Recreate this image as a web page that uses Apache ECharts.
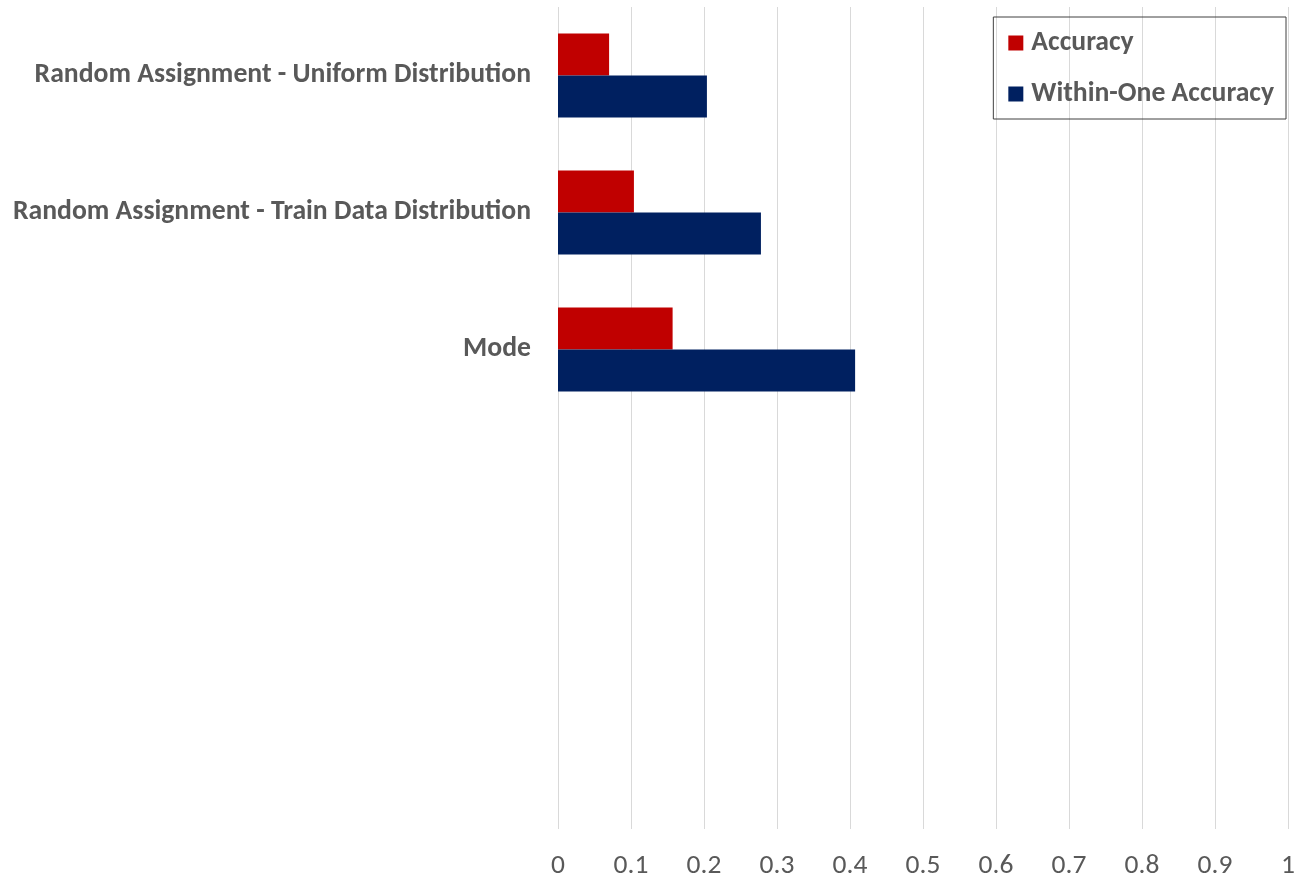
<!DOCTYPE html>
<html>
<head>
<meta charset="utf-8">
<script src="https://cdn.jsdelivr.net/npm/echarts@6/dist/echarts.min.js"></script>
<style>
  html, body { margin: 0; padding: 0; background: #ffffff; }
  #chart { width: 1297px; height: 877px; }
</style>
</head>
<body>
<div id="chart"></div>
<script>
// Baseline methods; the three trailing slots are left empty on the axis.
const categories = [
  'Random Assignment - Uniform Distribution',
  'Random Assignment - Train Data Distribution',
  'Mode',
  '',
  ' ',
  '  '
];
const accuracy = [0.070, 0.104, 0.157, null, null, null];
const withinOneAccuracy = [0.204, 0.278, 0.407, null, null, null];
const seriesNames = ['Accuracy', 'Within-One Accuracy'];
const xTicks = { min: 0, max: 1, interval: 0.1 };

const FONT = 'Carlito, Lato, "Open Sans", sans-serif';
const TEXT = '#595959';

const chart = echarts.init(document.getElementById('chart'), null, { renderer: 'canvas' });
chart.setOption({
  animation: false,
  backgroundColor: '#ffffff',
  grid: {
    left: 558, right: 9, top: 7, bottom: 48,
    containLabel: false, outerBoundsMode: 'none'
  },
  legend: {
    orient: 'vertical',
    right: 11,
    top: 17,
    padding: [12, 12, 11, 15],
    itemWidth: 15,
    itemHeight: 15,
    itemGap: 23,
    icon: 'rect',
    borderColor: '#404040',
    borderWidth: 1,
    textStyle: {
      fontFamily: FONT, fontSize: 27.7, fontWeight: 'bold', color: TEXT,
      padding: [0, 0, 0, 3]
    },
    data: seriesNames
  },
  xAxis: {
    type: 'value',
    min: xTicks.min,
    max: xTicks.max,
    interval: xTicks.interval,
    axisLine: { show: false },
    axisTick: { show: false },
    splitLine: { show: true, lineStyle: { color: '#d9d9d9', width: 1 } },
    axisLabel: {
      fontFamily: FONT, fontSize: 27.5, color: TEXT, margin: 23,
      formatter: v => String(Math.round(v * 10) / 10)
    }
  },
  yAxis: {
    type: 'category',
    inverse: true,
    data: categories,
    axisLine: { show: false },
    axisTick: { show: false },
    splitLine: { show: false },
    axisLabel: {
      fontFamily: FONT, fontSize: 27.7, fontWeight: 'bold', color: TEXT, margin: 27,
      interval: 0, padding: [12, 0, 0, 0]
    }
  },
  series: [
    {
      name: seriesNames[0], type: 'bar', data: accuracy,
      barWidth: 42, barGap: '0%',
      itemStyle: { color: '#c00000' }
    },
    {
      name: seriesNames[1], type: 'bar', data: withinOneAccuracy,
      barWidth: 42, barGap: '0%',
      itemStyle: { color: '#002060' }
    }
  ]
});
</script>
</body>
</html>
